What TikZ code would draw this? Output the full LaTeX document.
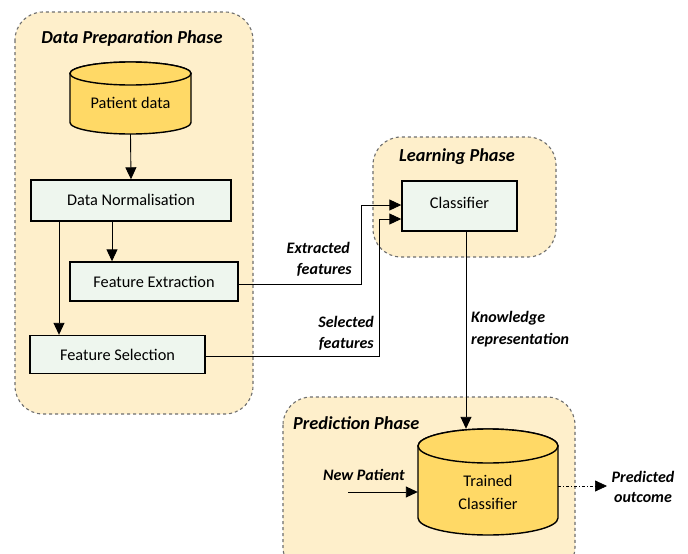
\documentclass[tikz,border=0pt]{standalone}
\usepackage{fontspec}
\setmainfont{Carlito}
\usetikzlibrary{arrows.meta}
\definecolor{phasefill}{HTML}{FEEFCB}
\definecolor{phaseline}{HTML}{6E6E6E}
\definecolor{cylfill}{HTML}{FFD966}
\definecolor{boxfill}{HTML}{EEF6EE}
\tikzset{
  phase/.style={draw=phaseline, fill=phasefill, dashed, line width=1.1pt, rounded corners=28pt},
  phasetitle/.style={font=\fontsize{18.3}{21}\selectfont\bfseries\itshape, inner sep=0pt},
  stepbox/.style={draw=black, fill=boxfill, line width=1.4pt, font=\fontsize{16.3}{19}\selectfont, inner sep=0pt},
  cylbody/.style={draw=black, fill=cylfill, line width=1.4pt},
  lab/.style={font=\fontsize{16}{21}\selectfont\bfseries\itshape, inner sep=0pt},
  conn/.style={draw=black, line width=0.9pt, -{Triangle[length=12pt,width=11pt]}},
  cyltext/.style={font=\fontsize{16.3}{23}\selectfont, inner sep=0pt, align=center}
}
\begin{document}
\begin{tikzpicture}[x=1pt,y=-1pt]
\useasboundingbox (0,0) rectangle (688,554);
\clip (0,0) rectangle (688,554);
\fill[white] (0,0) rectangle (688,554);
% phase boxes
\draw[phase] (15,12) rectangle (253,414);
\draw[phase] (373,137) rectangle (556,257);
\draw[phase] (283,397) rectangle (575,575);
\node[phasetitle] (t1) at (132,39) {Data Preparation Phase};
\node[phasetitle] (t2) at (457,157) {Learning Phase};
\node[phasetitle, anchor=west] (t3) at (293,423) {Prediction Phase};
% Patient data cylinder
\filldraw[cylbody] (70,73.5) -- (70,122.5) arc[start angle=180,end angle=0,x radius=60.5,y radius=11.5] -- (191,73.5) arc[start angle=0,end angle=-180,x radius=60.5,y radius=11.5] -- cycle;
\draw[cylbody] (130.5,73.5) ellipse[x radius=60.5,y radius=11.5];
\node[minimum width=121pt, minimum height=72pt, inner sep=0pt] (pd) at (130.5,98) {};
\node[cyltext] (pdt) at (130.5,103) {Patient data};
% Trained classifier cylinder
\filldraw[cylbody] (418,446) -- (418,518) arc[start angle=180,end angle=0,x radius=70,y radius=17] -- (558,446) arc[start angle=0,end angle=-180,x radius=70,y radius=17] -- cycle;
\draw[cylbody] (488,446) ellipse[x radius=70,y radius=17];
\node[minimum width=140pt, minimum height=106pt, inner sep=0pt] (tc) at (488,482) {};
\node[cyltext] (tct) at (488,492) {Trained\\Classifier};
% step boxes
\node[stepbox, minimum width=200pt, minimum height=41pt] (dn) at (131,200.5) {\raisebox{2pt}{Data Normalisation}};
\node[stepbox, minimum width=168pt, minimum height=39pt] (fe) at (154,281.5) {Feature Extraction};
\node[stepbox, minimum width=175pt, minimum height=38pt] (fs) at (117.5,354.5) {Feature Selection};
\node[stepbox, minimum width=115pt, minimum height=50pt] (cl) at (459.5,206) {\raisebox{6pt}{Classifier}};
% connectors
\draw[conn] (pd.south) -- (dn.north);
\draw[conn] (dn.south -| 112,0) -- (fe.north -| 112,0);
\draw[conn] (dn.south -| 59,0) -- (fs.north -| 59,0);
\coordinate (e1) at (361,284);
\coordinate (e2) at (361,205);
\draw[conn] (fe.east |- e1) -- (e1) -- (e2) -- (cl.west |- e2);
\coordinate (s1) at (379,356);
\coordinate (s2) at (379,219);
\draw[conn] (fs.east |- s1) -- (s1) -- (s2) -- (cl.west |- s2);
\draw[conn] (cl.south -| 466,0) -- (tc.north -| 466,0);
\coordinate (np) at (348,492);
\draw[conn] (np) -- (tc.west |- np);
\coordinate (po) at (607,486);
\draw[conn, dash dot, line width=0.7pt] (tc.east |- po) -- (po);
% labels
\node[lab, anchor=east] (l1) at (350,248) {Extracted};
\node[lab, anchor=east] (l2) at (352,270) {features};
\node[lab, anchor=east] (l3) at (374,322) {Selected};
\node[lab, anchor=east] (l4) at (374,344) {features};
\node[lab, anchor=west] (l5) at (471,318) {Knowledge};
\node[lab, anchor=west] (l6) at (471,340) {representation};
\node[lab] (l7) at (364,475) {New Patient};
\node[lab] (l8) at (643,477) {Predicted};
\node[lab] (l9) at (643,498) {outcome};
\end{tikzpicture}
\end{document}
